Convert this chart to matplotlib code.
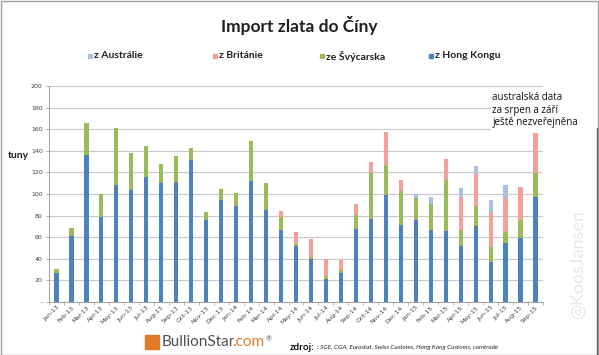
import matplotlib.pyplot as plt
import numpy as np
from matplotlib.patches import Rectangle

# data (tonnes)
months = ["Jan-13", "Feb-13", "Mar-13", "Apr-13", "May-13", "Jun-13", "Jul-13", "Aug-13",
          "Sep-13", "Oct-13", "Nov-13", "Dec-13", "Jan-14", "Feb-14", "Mar-14", "Apr-14",
          "May-14", "Jun-14", "Jul-14", "Aug-14", "Sep-14", "Oct-14", "Nov-14", "Dec-14",
          "Jan-15", "Feb-15", "Mar-15", "Apr-15", "May-15", "Jun-15", "Jul-15", "Aug-15", "Sep-15"]
hong_kong = [27, 61, 136, 79, 108, 104, 116, 110, 111, 131, 76, 94,
             89, 112, 85, 67, 52, 40, 21, 27, 68, 77, 99, 71,
             76, 67, 66, 52, 70, 37, 55, 59, 97]
switzerland = [4, 8, 30, 21, 53, 34, 28, 18, 24, 12, 7, 11,
               12, 37, 25, 12, 2, 2, 3.5, 3, 12.6, 42, 28, 32,
               20, 23.5, 46.6, 15, 19, 14, 10, 17, 22]
britain = [0, 0, 0, 0, 0, 0, 0, 0, 0, 0, 0, 0,
           0, 0, 0, 5, 10.6, 16, 15, 9.4, 10.4, 10.6, 30, 10,
           0, 0, 19.4, 30, 30, 32, 31, 30.5, 37.5]
australia = [0, 0, 0, 0, 0, 0, 0, 0, 0, 0, 0, 0,
             0, 0, 0, 0, 0, 0, 0, 0, 0, 0, 0, 0,
             4.3, 6.5, 0, 9, 7, 11, 12.6, 0, 0]

c_hk = "#4f81bd"
c_ch = "#9bbb59"
c_uk = "#f4a09a"
c_au = "#a9c1e3"

plt.rcParams['font.family'] = ['Lato', 'DejaVu Sans']

fig = plt.figure(figsize=(5.99, 3.55), dpi=100)
ax = fig.add_axes([0.0818, 0.149, 0.8247, 0.609])

x = np.arange(len(months))
w = 0.28
hk = np.array(hong_kong)
ch = np.array(switzerland)
uk = np.array(britain)
au = np.array(australia)
ax.bar(x, hk, w, color=c_hk, zorder=3)
ax.bar(x, ch, w, bottom=hk, color=c_ch, zorder=3)
ax.bar(x, uk, w, bottom=hk + ch, color=c_uk, zorder=3)
ax.bar(x, au, w, bottom=hk + ch + uk, color=c_au, zorder=3)

ax.set_xlim(-0.5, len(months) - 0.5)
ax.set_ylim(0, 200)
yt = np.arange(0, 201, 20)
ax.set_yticks(yt)
ax.set_yticklabels(["-"] + [str(v) for v in yt[1:]], fontsize=4.5, color="#404040",
                   family="DejaVu Sans")
ax.set_xticks(x)
ax.set_xticklabels(months, rotation=45, ha="right", rotation_mode="anchor",
                   fontsize=4.5, color="#404040", family="DejaVu Sans")
ax.set_xticks(np.arange(-0.5, len(months), 1), minor=True)
ax.tick_params(axis="x", which="major", length=0, pad=2)
ax.tick_params(axis="x", which="minor", length=2.5, color="#d99594", width=0.6)
ax.tick_params(axis="y", length=2.5, color="#a0a0a0", width=0.6, pad=2)
ax.grid(axis="y", color="#c8c8c8", linewidth=0.8, zorder=0)
for s in ["top", "right"]:
    ax.spines[s].set_visible(False)
ax.spines["left"].set_color("#a0a0a0")
ax.spines["bottom"].set_color("#a0a0a0")
ax.spines["left"].set_linewidth(0.7)
ax.spines["bottom"].set_linewidth(0.7)

fig.text(0.5, 0.928, "Import zlata do Číny", ha="center", va="center",
         fontsize=12.5, fontweight="bold", color="#202020")

# legend row
leg = [("z Austrálie", c_au, 88), ("z Británie", c_uk, 213),
       ("ze Švýcarska", c_ch, 320), ("z Hong Kongu", c_hk, 429)]
for name, col, px in leg:
    fig.patches.append(Rectangle((px / 599, 1 - 58 / 355), 4 / 599, 4 / 355,
                                 transform=fig.transFigure, color=col))
    fig.text((px + 6) / 599, 1 - 56 / 355, name, ha="left", va="center",
             fontsize=7.5, fontweight="bold", color="#202020")

fig.text(8 / 599, 1 - 155 / 355, "tuny", ha="left", va="center",
         fontsize=7.5, fontweight="bold", color="#202020")

fig.text(492 / 599, 1 - 110 / 355, "australská data\nza srpen a září\nještě nezveřejněna",
         ha="left", va="center", fontsize=7, color="#101010", linespacing=1.25,
         family=["Open Sans", "DejaVu Sans"],
         bbox=dict(facecolor="white", edgecolor="none", pad=1))

fig.text(578 / 599, 1 - 265 / 355, "@KoosJansen", rotation=90, ha="center", va="center",
         fontsize=13, color="#e8e8e8")

# logo
fig.patches.append(Rectangle((145 / 599, 1 - 349 / 355), 14 / 599, 14 / 355,
                             transform=fig.transFigure, color="#e07b28"))
t1 = fig.text(162 / 599, 1 - 346 / 355, "BullionStar", ha="left", va="baseline",
              fontsize=11, color="#505050")
t2 = ax.annotate(".com", xy=(1, 0), xycoords=t1, xytext=(-2, 0), textcoords="offset points",
                 ha="left", va="bottom", fontsize=11, color="#e07b28",
                 annotation_clip=False)
ax.annotate("®", xy=(1, 1), xycoords=t2, xytext=(1, -3), textcoords="offset points",
            ha="left", va="center", fontsize=5, color="#505050", annotation_clip=False)

fig.text(290 / 599, 1 - 347 / 355, "zdroj:", ha="left", va="center",
         fontsize=7, fontweight="bold", color="#101010")
fig.text(317 / 599, 1 - 347 / 355,
         ": SGE, CGA, Eurostat, Swiss Customs, Hong Kong Customs, comtrade",
         ha="left", va="center", fontsize=4.6, style="italic", color="#202020")

# outer frame and right edge line
fig.patches.append(Rectangle((0.5 / 599, 0.5 / 355), 597.5 / 599, 353.5 / 355,
                             transform=fig.transFigure, fill=False,
                             edgecolor="#a0a0a0", linewidth=1))
fig.add_artist(plt.Line2D([597 / 599, 597 / 599], [0, 1 - 128 / 355],
                          transform=fig.transFigure, color="#606060", linewidth=1))

fig.savefig("out.png", dpi=100)
